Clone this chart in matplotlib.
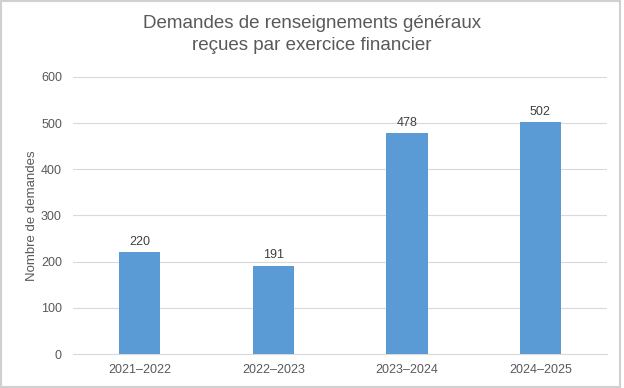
import matplotlib.pyplot as plt
from matplotlib.patches import Rectangle

# data
years = ["2021\u20132022", "2022\u20132023", "2023\u20132024", "2024\u20132025"]
requests = [220, 191, 478, 502]
yTicks = [0, 100, 200, 300, 400, 500, 600]

barColor = "#5B9BD5"
textColor = "#595959"

plt.rcParams['font.family'] = ['Liberation Sans', 'DejaVu Sans']

fig = plt.figure(figsize=(6.24, 3.88), dpi=100)
ax = fig.add_axes([0.117, 0.0876, 0.856, 0.714])

xPos = list(range(len(years)))
bars = ax.bar(xPos, requests, width=0.31, color=barColor, zorder=3)

#value labels above each bar
for x, v in zip(xPos, requests):
	ax.text(x, v + 10, str(v), ha="center", va="bottom", fontsize=9, color="#404040")

ax.set_xlim(-0.5, len(years) - 0.5)
ax.set_ylim(0, 600)
ax.set_yticks(yTicks)
ax.set_xticks(xPos)
ax.set_xticklabels(years)
ax.tick_params(axis="both", length=0, labelsize=9, colors=textColor)
ax.tick_params(axis="y", pad=8)
ax.tick_params(axis="x", pad=7)
ax.grid(axis="y", color="#D9D9D9", linewidth=0.8, zorder=0)
for side in ["top", "right", "left"]:
	ax.spines[side].set_visible(False)
ax.spines["bottom"].set_color("#D9D9D9")
ax.set_ylabel("Nombre de demandes", fontsize=9.5, color=textColor, labelpad=2)

fig.text(0.5, 0.911, "Demandes de renseignements g\u00e9n\u00e9raux\nre\u00e7ues par exercice financier",
	ha="center", va="center", fontsize=13.5, color=textColor, linespacing=1.4)

#light gray frame around the whole chart
fig.patches.append(Rectangle((0.002, 0.003), 0.992, 0.994, transform=fig.transFigure,
	fill=False, edgecolor="#D0D0D0", linewidth=1.5))

fig.savefig("out.png", dpi=100)
